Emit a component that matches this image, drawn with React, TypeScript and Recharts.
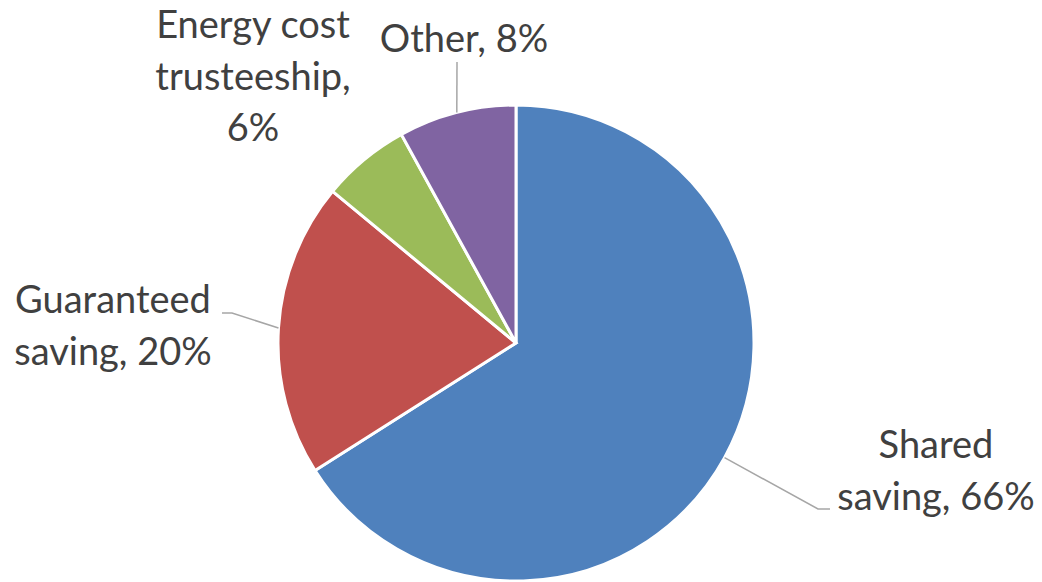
import { PieChart, Pie, Cell } from "recharts";

const categories = ["Shared saving", "Guaranteed saving", "Energy cost trusteeship", "Other"];
const shares = [66, 20, 6, 8];
const colors = ["#4F81BD", "#C0504D", "#9BBB59", "#8064A2"];

// label text lines, per category
const labelLines: Record<string, string[]> = {
  "Shared saving": ["Shared", "saving, 66%"],
  "Guaranteed saving": ["Guaranteed", "saving, 20%"],
  "Energy cost trusteeship": ["Energy cost", "trusteeship,", "6%"],
  Other: ["Other, 8%"],
};

// label placement relative to pie centre (text centre x, first baseline y, leader elbow/end)
const labelLayout: Record<string, { tx: number; ty: number; elbow?: [number, number]; end?: number }> = {
  "Shared saving": { tx: 420, ty: 115, elbow: [302, 166], end: 314 },
  "Guaranteed saving": { tx: -403, ty: -30, elbow: [-284, -30], end: -294 },
  "Energy cost trusteeship": { tx: -263, ty: -305 },
  Other: { tx: -52, ty: -291, elbow: [-59, -281], end: -59 },
};

const data = categories.map((name, i) => ({ name, value: shares[i] }));

const RAD = Math.PI / 180;
const FONT = "Lato, 'Open Sans', sans-serif";
const LINE_H = 51.5;

function renderLabel(props: any) {
  const { cx, cy, midAngle, outerRadius, name } = props;
  const lay = labelLayout[name];
  const lines = labelLines[name];
  const sx = cx + outerRadius * Math.cos(-midAngle * RAD);
  const sy = cy + outerRadius * Math.sin(-midAngle * RAD);
  let path = "";
  if (lay.elbow) {
    const ex = cx + lay.elbow[0];
    const ey = cy + lay.elbow[1];
    path = `M${sx},${sy}L${ex},${ey}L${cx + (lay.end ?? lay.elbow[0])},${ey}`;
  }
  return (
    <g>
      {path && <path d={path} stroke="#A6A6A6" strokeWidth={1.5} fill="none" />}
      <text
        x={cx + lay.tx}
        y={cy + lay.ty}
        textAnchor="middle"
        fill="#404040"
        fontSize={38}
        fontFamily={FONT}
      >
        {lines.map((l, i) => (
          <tspan key={i} x={cx + lay.tx} dy={i === 0 ? 0 : LINE_H}>
            {l}
          </tspan>
        ))}
      </text>
    </g>
  );
}

export default function App() {
  return (
    <div style={{ position: "absolute", left: 0, top: 0, width: 1042, height: 582, background: "#fff" }}>
      <PieChart width={1042} height={582} margin={{ top: 0, right: 0, bottom: 0, left: 0 }}>
        <Pie
          data={data}
          dataKey="value"
          nameKey="name"
          cx={516}
          cy={343}
          outerRadius={238}
          startAngle={90}
          endAngle={-270}
          stroke="#FFFFFF"
          strokeWidth={3}
          label={renderLabel}
          labelLine={false}
          isAnimationActive={false}
        >
          {data.map((d, i) => (
            <Cell key={d.name} fill={colors[i]} />
          ))}
        </Pie>
      </PieChart>
    </div>
  );
}
